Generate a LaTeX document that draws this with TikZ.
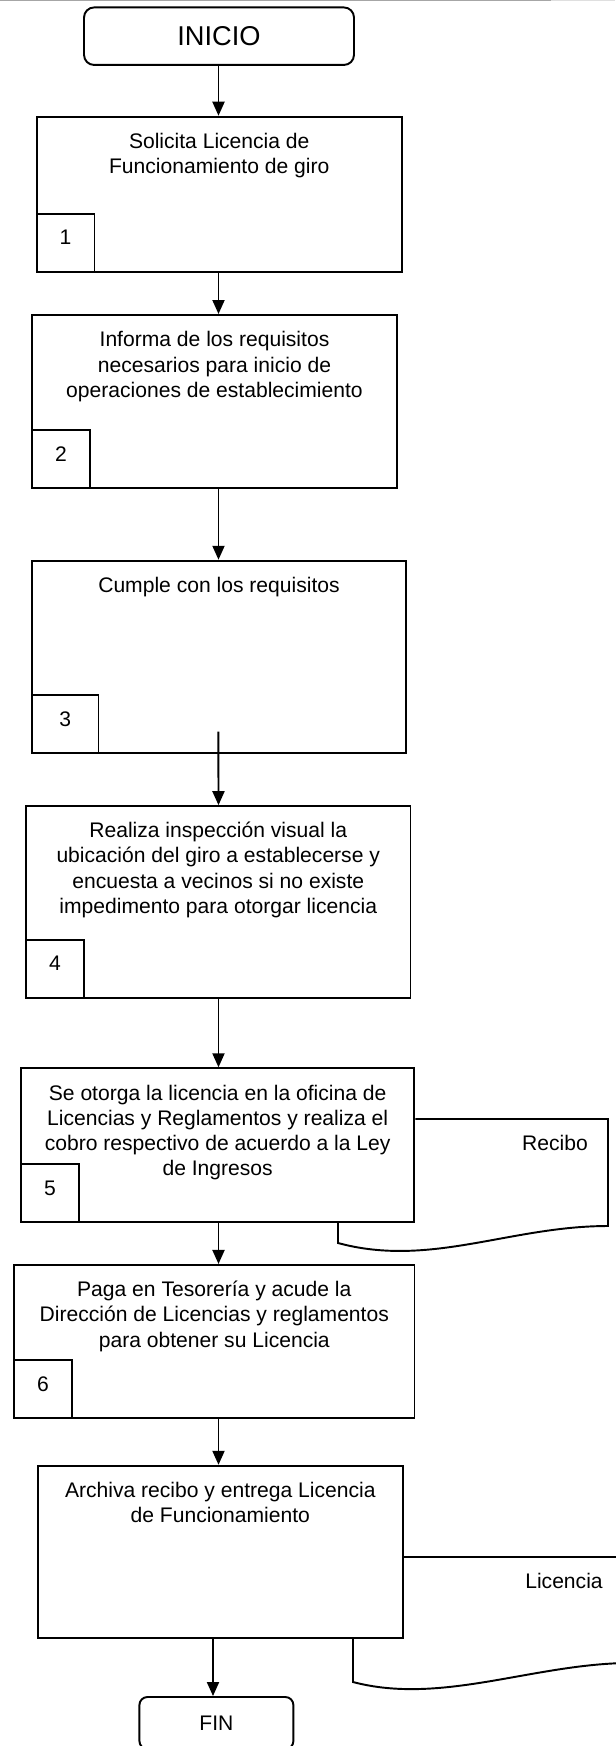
\documentclass[tikz,border=0pt]{standalone}
\usepackage{fontspec}
\setmainfont{Liberation Sans}
\usetikzlibrary{positioning,arrows.meta}

\begin{document}
\begin{tikzpicture}[x=0.02cm,y=-0.02cm,line width=1.1pt,
  >={Triangle[width=0.24cm,length=0.28cm]},
  every node/.style={font=\fontsize{12}{14.4}\selectfont,align=center},
  endbox/.style={draw,fill=white,rounded corners=0.2cm},
  stepbox/.style={draw,fill=white,inner sep=0pt},
  steptext/.style={inner sep=0pt},
  stepnum/.style={draw,fill=white,anchor=south west,inner sep=0pt,
    minimum width=1.16cm,minimum height=1.16cm,text depth=0.2cm}]
\useasboundingbox (0,0) rectangle (615,1746);
\draw[gray!70,line width=0.6pt] (0,0.6) -- (551,0.6);
\draw[gray!25,line width=0.6pt] (551,0.6) -- (615,0.6);

\node[endbox,minimum width=5.4cm,minimum height=1.15cm,
  font=\fontsize{15.5}{18}\selectfont] (inicio) at (219,36.2) {INICIO};

\node[stepbox,minimum width=7.31cm,minimum height=3.1cm] (b1) at (219.25,194.2) {};
\node[steptext,below=0.33cm of b1.north] (t1) {Solicita Licencia de\\Funcionamiento de giro};
\node[stepnum] (n1) at (b1.south west) {1};

\node[stepbox,minimum width=7.3cm,minimum height=3.47cm] (b2) at (214.5,401.7) {};
\node[steptext,below=0.33cm of b2.north] (t2) {Informa de los requisitos\\necesarios para inicio de\\operaciones de establecimiento};
\node[stepnum] (n2) at (b2.south west) {2};

\node[stepbox,minimum width=7.48cm,minimum height=3.84cm] (b3) at (219,656.7) {};
\node[steptext,below=0.33cm of b3.north] (t3) {Cumple con los requisitos};
\node[stepnum,minimum width=1.33cm] (n3) at (b3.south west) {3};

\node[stepbox,minimum width=7.69cm,minimum height=3.83cm] (b4) at (218.25,901.85) {};
\node[steptext,below=0.32cm of b4.north] (t4) {Realiza inspección visual la\\ubicación del giro a establecerse y\\encuesta a vecinos si no existe\\impedimento para otorgar licencia};
\node[stepnum] (n4) at (b4.south west) {4};

\node[stepbox,minimum width=7.87cm,minimum height=3.07cm] (b5) at (217.65,1145) {};
\node[steptext,below=0.33cm of b5.north] (t5) {Se otorga la licencia en la oficina de\\Licencias y Reglamentos y realiza el\\cobro respectivo de acuerdo a la Ley\\de Ingresos};
\node[stepnum] (n5) at (b5.south west) {5};

\node[stepbox,minimum width=8.01cm,minimum height=3.07cm] (b6) at (214.3,1341.65) {};
\node[steptext,below=0.32cm of b6.north] (t6) {Paga en Tesorería y acude la\\Dirección de Licencias y reglamentos\\para obtener su Licencia};
\node[stepnum] (n6) at (b6.south west) {6};

\node[stepbox,minimum width=7.31cm,minimum height=3.45cm] (b7) at (220.3,1552) {};
\node[steptext,below=0.32cm of b7.north] (t7) {Archiva recibo y entrega Licencia\\de Funcionamiento};

\node[endbox,rounded corners=0.16cm,minimum width=3.08cm,minimum height=1.04cm] (fin) at (216.4,1723) {FIN};

% documents
\coordinate (rc) at (608,1119);
\coordinate (rl) at (338,1243);
\draw (b5.east |- rc) -- (rc) -- (608,1226)
  .. controls (510,1226) and (430,1268) .. (rl) -- (rl |- b5.south);
\node (recibo) at (555,1143) {Recibo};

\coordinate (lc) at (625,1557);
\coordinate (ll) at (353,1682);
\draw (b7.east |- lc) -- (lc);
\draw (ll |- b7.south) -- (ll) .. controls (440,1705) and (530,1665) .. (625,1663);
\node (licencia) at (564,1581) {Licencia};

% connectors
\coordinate (axis) at (218.5,0);
\coordinate (s3) at (218.4,731.7);
\coordinate (finax) at (213,0);
\draw[->] (inicio.south -| axis) -- (b1.north -| axis);
\draw[->] (b1.south -| axis) -- (b2.north -| axis);
\draw[->] (b2.south -| axis) -- (b3.north -| axis);
\draw[->] (s3) -- (b4.north -| axis);
\draw[->] (b4.south -| axis) -- (b5.north -| axis);
\draw[->] (b5.south -| axis) -- (b6.north -| axis);
\draw[->] (b6.south -| axis) -- (b7.north -| axis);
\draw[->] (b7.south -| finax) -- (fin.north -| finax);
\end{tikzpicture}
\end{document}
